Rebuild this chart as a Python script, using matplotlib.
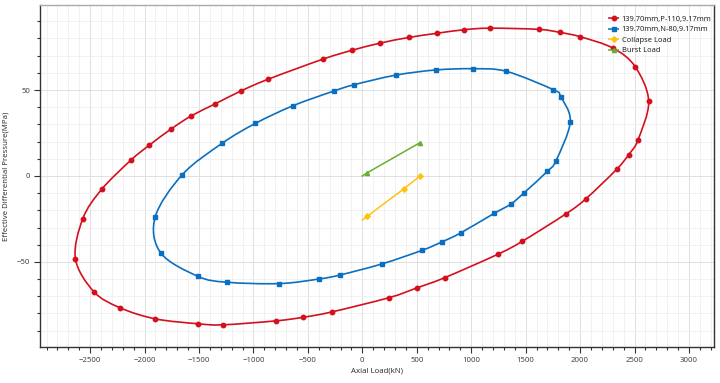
import numpy as np
import matplotlib
matplotlib.use('Agg')
import matplotlib.pyplot as plt
from matplotlib.path import Path
from matplotlib.patches import PathPatch
from matplotlib.lines import Line2D
from matplotlib.ticker import MultipleLocator

plt.rcParams['font.family'] = ['Noto Sans', 'DejaVu Sans']

##Data

p110_load = [-2635, -2567, -2393, -2124, -1959, -1757, -1573, -1350, -1117, -869,
             -361, -97, 163, 426, 683, 934, 1175, 1622, 1818, 2002, 2302,
             2507, 2630, 2531, 2446, 2336, 2051, 1873, 1469, 1246, 759,
             502, 245, -281, -542, -795, -1282, -1506, -1903, -2228, -2466]
p110_press = [-48.1, -24.8, -7.7, 9.3, 17.8, 27.3, 34.9, 42.0, 49.4, 56.2,
              68.0, 73.1, 77.3, 80.6, 83.0, 85.1, 86.0, 85.3, 83.5, 81.0, 74.4,
              63.5, 43.4, 20.9, 12.4, 3.9, -13.4, -21.9, -38.0, -45.5, -59.1,
              -65.1, -70.8, -79.1, -82.2, -84.3, -86.6, -86.0, -83.1, -76.6, -67.3]

n80_load = [-1903, -1653, -1288, -982, -636, -263, -76, 309, 677, 1019,
            1322, 1754, 1822, 1910, 1779, 1699, 1487, 1365, 1209, 904,
            729, 551, 178, -205, -395, -762, -1245, -1509, -1851]
n80_press = [-24.0, 0.8, 19.0, 30.6, 40.9, 49.4, 53.1, 58.7, 61.7, 62.4,
             60.9, 50.2, 46.1, 31.5, 8.9, 2.7, -9.7, -16.3, -21.8, -33.1,
             -38.4, -43.2, -51.2, -57.6, -59.9, -62.6, -61.8, -58.4, -44.8]

collapse_load = [0, 46, 383, 530]
collapse_press = [-25.6, -23.4, -7.4, 0.0]

burst_load = [0, 46, 530]
burst_press = [0.0, 1.9, 19.4]

labels = ['139.70mm,P-110,9.17mm', '139.70mm,N-80,9.17mm', 'Collapse Load', 'Burst Load']
colors = ['#d40f1e', '#0b6fc1', '#ffc20e', '#6aae2f']

##Helpers

def closed_spline_path(x, y):
    #catmull-rom through the read points, drawn as bezier segments
    pts = np.column_stack([x, y]).astype(float)
    n = len(pts)
    verts = [pts[0]]
    codes = [Path.MOVETO]
    for i in range(n):
        p0 = pts[(i - 1) % n]
        p1 = pts[i]
        p2 = pts[(i + 1) % n]
        p3 = pts[(i + 2) % n]
        verts += [p1 + (p2 - p0) / 6.0, p2 - (p3 - p1) / 6.0, p2]
        codes += [Path.CURVE4] * 3
    return Path(verts, codes)

##Plot

fig = plt.figure(figsize=(7.2, 3.83), dpi=100)
ax = fig.add_axes([0.0556, 0.094, 0.9361, 0.893])

for xs, ys, c in [(p110_load, p110_press, colors[0]), (n80_load, n80_press, colors[1])]:
    ax.add_patch(PathPatch(closed_spline_path(xs, ys), facecolor='none',
                           edgecolor=c, lw=1.2, zorder=3))

ax.plot(p110_load, p110_press, 'o', color=colors[0], ms=3.2, zorder=4)
ax.plot(n80_load, n80_press, 's', color=colors[1], ms=3.2, zorder=4)
ax.plot(collapse_load, collapse_press, '-', color=colors[2], lw=1.1, zorder=3)
ax.plot(collapse_load[1:], collapse_press[1:], 'D', color=colors[2], ms=2.8, zorder=4)
ax.plot(burst_load, burst_press, '-', color=colors[3], lw=1.1, zorder=3)
ax.plot(burst_load[1:], burst_press[1:], '^', color=colors[3], ms=3.0, zorder=4)

ax.set_xlim(-2960, 3230)
ax.set_ylim(-99.5, 99.5)
ax.xaxis.set_major_locator(MultipleLocator(500))
ax.xaxis.set_minor_locator(MultipleLocator(100))
ax.yaxis.set_major_locator(MultipleLocator(50))
ax.yaxis.set_minor_locator(MultipleLocator(10))
ax.grid(which='major', color='#e0e0e0', lw=0.7)
ax.grid(which='minor', color='#efefef', lw=0.6)
ax.set_axisbelow(True)

ax.tick_params(which='both', direction='out', colors='#333333', labelsize=5.6,
               labelcolor='#444444', width=0.8, pad=3)
ax.tick_params(which='major', length=4)
ax.tick_params(which='minor', length=2.5)
for s in ax.spines.values():
    s.set_color('#333333')
    s.set_linewidth(1.0)
ax.spines['top'].set_color('#aaaaaa')

ax.set_xlabel('Axial Load(kN)', fontsize=5.6, color='#333333', labelpad=3)
ax.set_ylabel('Effective Differential Pressure(MPa)', fontsize=5.6, color='#333333', labelpad=5)

handles = [Line2D([], [], color=colors[0], marker='o', ms=3.2, lw=1.1, ls='--'),
           Line2D([], [], color=colors[1], marker='s', ms=3.2, lw=1.1, ls='--'),
           Line2D([], [], color=colors[2], marker='D', ms=2.8, lw=1.1, ls='--'),
           Line2D([], [], color=colors[3], marker='^', ms=3.0, lw=1.1, ls='--')]
ax.legend(handles, labels, loc='upper left', bbox_to_anchor=(0.835, 0.985), frameon=False,
          fontsize=5.4, handlelength=1.5, handletextpad=0.3, labelspacing=0.45,
          borderpad=0.2, labelcolor='#222222')

fig.savefig('out.png', dpi=100)
